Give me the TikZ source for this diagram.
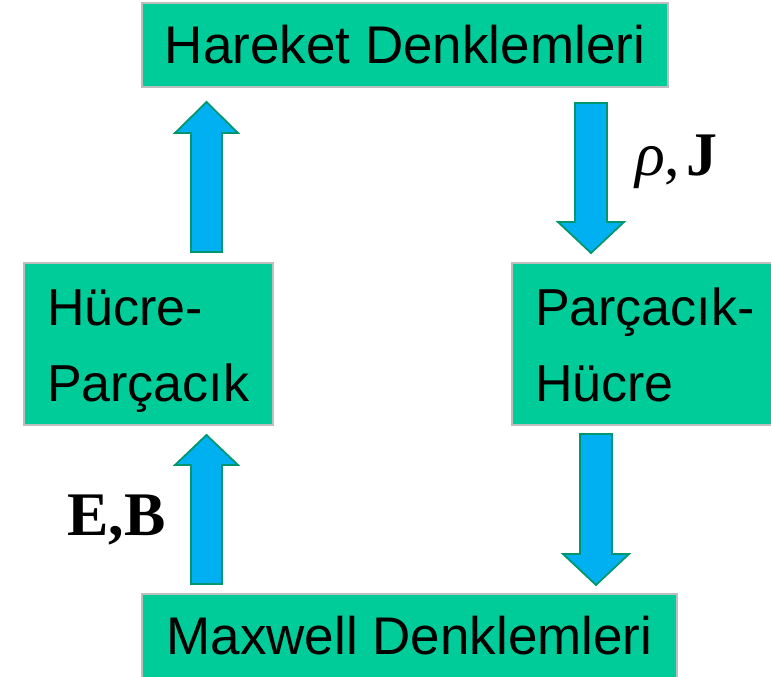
\documentclass[tikz,border=0pt]{standalone}
\usepackage{fontspec}
\setmainfont{Liberation Sans}
\newfontfamily\labelserif{Liberation Serif}
\definecolor{boxgreen}{RGB}{0,204,153}
\definecolor{boxline}{RGB}{190,190,190}
\definecolor{arrowfill}{RGB}{0,176,240}
\definecolor{arrowline}{RGB}{0,150,110}
\newcommand{\twolines}[3]{\begin{minipage}[c][162pt][t]{#1}\raggedright\fontsize{52}{76}\selectfont\rule{0pt}{62pt}#2\\#3\end{minipage}}
\tikzset{
  box/.style={draw=boxline, line width=1.5pt, fill=boxgreen, inner sep=0pt,
    font=\fontsize{53}{64}\selectfont},
  twoline/.style={box, inner xsep=23pt, inner ysep=0pt, minimum height=162pt},
  blockarrow/.style={draw=arrowline, line width=1.8pt, fill=arrowfill, line join=miter},
  lbl/.style={anchor=base west, inner sep=0pt, font=\labelserif\fontsize{62}{62}\selectfont}
}
\begin{document}
\begin{tikzpicture}[x=1pt,y=1pt]
\path[use as bounding box] (0,0) rectangle (771,-677);
\clip (0,0) rectangle (771,-677);
\node[box, minimum width=526pt, minimum height=84pt] (hd) at (405,-45) {Hareket Denklemleri};
\node[twoline] (hp) at (148.5,-344) {\twolines{203pt}{Hücre-}{Parçacık}};
\node[twoline] (ph) at (655,-344) {\twolines{240pt}{Parçacık-}{Hücre}};
\node[box, minimum width=535pt, minimum height=84pt] (md) at (409.5,-636) {Maxwell Denklemleri};
% up arrow: Hucre-Parcacik -> Hareket
\draw[blockarrow] (191,-252) -- (191,-133) -- (175,-133) -- (206.5,-102) -- (238,-133) -- (222,-133) -- (222,-252) -- cycle;
% up arrow: Maxwell -> Hucre-Parcacik
\draw[blockarrow] (191,-584) -- (191,-465) -- (175,-465) -- (206.5,-435) -- (238,-465) -- (222,-465) -- (222,-584) -- cycle;
% down arrow: Hareket -> Parcacik-Hucre
\draw[blockarrow] (575,-103) -- (575,-222) -- (558,-222) -- (591,-253) -- (624,-222) -- (607,-222) -- (607,-103) -- cycle;
% down arrow: Parcacik-Hucre -> Maxwell
\draw[blockarrow] (580,-434) -- (580,-554) -- (563,-554) -- (596,-585) -- (629,-554) -- (612,-554) -- (612,-434) -- cycle;
\node[lbl] (rj) at (635,-175) {\textit{ρ},\hspace{0.1em}\textbf{J}};
\node[lbl] (eb) at (67,-535) {\textbf{E,B}};
\end{tikzpicture}
\end{document}
